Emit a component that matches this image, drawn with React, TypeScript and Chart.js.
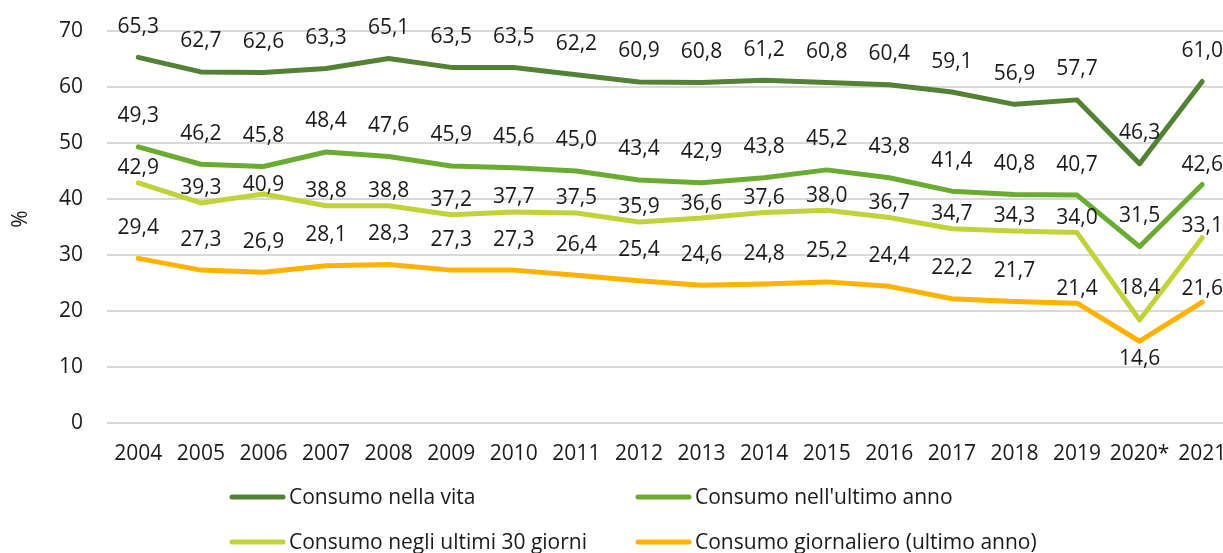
import React, { useEffect, useRef } from "react";
import { Chart, registerables } from "chart.js";

Chart.register(...registerables);

const years = ["2004", "2005", "2006", "2007", "2008", "2009", "2010", "2011", "2012", "2013", "2014", "2015", "2016", "2017", "2018", "2019", "2020*", "2021"];

const seriesNames = [
  "Consumo nella vita",
  "Consumo nell'ultimo anno",
  "Consumo negli ultimi 30 giorni",
  "Consumo giornaliero (ultimo anno)",
];

const consumoVita = [65.3, 62.7, 62.6, 63.3, 65.1, 63.5, 63.5, 62.2, 60.9, 60.8, 61.2, 60.8, 60.4, 59.1, 56.9, 57.7, 46.3, 61.0];
const consumoAnno = [49.3, 46.2, 45.8, 48.4, 47.6, 45.9, 45.6, 45.0, 43.4, 42.9, 43.8, 45.2, 43.8, 41.4, 40.8, 40.7, 31.5, 42.6];
const consumo30 = [42.9, 39.3, 40.9, 38.8, 38.8, 37.2, 37.7, 37.5, 35.9, 36.6, 37.6, 38.0, 36.7, 34.7, 34.3, 34.0, 18.4, 33.1];
const consumoGiorno = [29.4, 27.3, 26.9, 28.1, 28.3, 27.3, 27.3, 26.4, 25.4, 24.6, 24.8, 25.2, 24.4, 22.2, 21.7, 21.4, 14.6, 21.6];

const yTicks = [0, 10, 20, 30, 40, 50, 60, 70];
const yTitle = "%";

// styling
const COLORS = ["#548235", "#6AAB31", "#C2D23B", "#FFB200"];
const FONT = "'Open Sans', 'Noto Sans', sans-serif";
const FONT_SIZE = 21;
const TEXT_COLOR = "#1a1a1a";
// label placement (px above point centre; negative = below)
const LABEL_DEFAULT_NUDGE = [32, 32, 16, 32];
const LABEL_NUDGE_OVERRIDES: Record<string, number> = {
  "1-17": 21,
  "2-2": 10,
  "2-16": 33,
  "2-17": 13,
  "3-15": 16,
  "3-16": -16,
  "3-17": 15,
};

const dataLabelPlugin = {
  id: "dataLabels",
  afterDatasetsDraw(chart: any) {
    const ctx = chart.ctx;
    ctx.save();
    ctx.font = `${FONT_SIZE}px ${FONT}`;
    ctx.fillStyle = TEXT_COLOR;
    ctx.textAlign = "center";
    ctx.textBaseline = "alphabetic";
    const capHalf = FONT_SIZE * 0.714 / 2;
    chart.data.datasets.forEach((ds: any, di: number) => {
      const meta = chart.getDatasetMeta(di);
      meta.data.forEach((pt: any, i: number) => {
        const v = ds.data[i];
        const key = `${di}-${i}`;
        const nudge = key in LABEL_NUDGE_OVERRIDES ? LABEL_NUDGE_OVERRIDES[key] : LABEL_DEFAULT_NUDGE[di];
        const text = v.toFixed(1).replace(".", ",");
        ctx.fillText(text, pt.x, pt.y - nudge + capHalf);
      });
    });
    ctx.restore();
  },
};

const legendPlugin = {
  id: "customLegend",
  afterDraw(chart: any) {
    const ctx = chart.ctx;
    ctx.save();
    ctx.font = `${FONT_SIZE}px ${FONT}`;
    ctx.textAlign = "left";
    ctx.textBaseline = "middle";
    const cols = [230, 636];
    const rows = [497, 542];
    chart.data.datasets.forEach((ds: any, di: number) => {
      const x = cols[di % 2];
      const y = rows[Math.floor(di / 2)];
      ctx.strokeStyle = ds.borderColor;
      ctx.lineWidth = 5;
      ctx.lineCap = "round";
      ctx.beginPath();
      ctx.moveTo(x + 2, y);
      ctx.lineTo(x + 53, y);
      ctx.stroke();
      ctx.fillStyle = TEXT_COLOR;
      ctx.fillText(ds.label, x + 59, y + 1);
    });
    // y-axis title
    ctx.translate(21, 219);
    ctx.rotate(-Math.PI / 2);
    ctx.textAlign = "center";
    ctx.fillStyle = TEXT_COLOR;
    ctx.fillText(yTitle, 0, 0);
    ctx.restore();
  },
};

export default function App() {
  const ref = useRef<HTMLCanvasElement>(null);

  useEffect(() => {
    if (!ref.current) return;
    const seriesData = [consumoVita, consumoAnno, consumo30, consumoGiorno];
    const chart = new Chart(ref.current, {
      type: "line",
      data: {
        labels: years,
        datasets: seriesData.map((d, i) => ({
          label: seriesNames[i],
          data: d,
          borderColor: COLORS[i],
          backgroundColor: COLORS[i],
          borderWidth: 5,
          pointRadius: 0,
          pointHoverRadius: 0,
          tension: 0,
          borderCapStyle: "round",
          borderJoinStyle: "round",
          fill: false,
        })),
      },
      options: {
        animation: false,
        responsive: false,
        devicePixelRatio: 1,
        layout: { padding: { top: 31, right: 6.5, bottom: 90, left: 0 } },
        plugins: {
          legend: { display: false },
          tooltip: { enabled: false },
        },
        scales: {
          x: {
            type: "category",
            offset: true,
            grid: { display: false, drawTicks: false },
            border: { display: false },
            ticks: {
              color: TEXT_COLOR,
              font: { family: FONT, size: FONT_SIZE },
              padding: 18,
              maxRotation: 0,
              autoSkip: false,
            },
            afterFit: (axis: any) => {
              axis.height = 40;
              axis.paddingLeft = 0;
              axis.paddingRight = 0;
            },
          },
          y: {
            min: 0,
            max: 70,
            afterBuildTicks: (axis: any) => {
              axis.ticks = yTicks.map((v) => ({ value: v }));
            },
            grid: { color: "#d9d9d9", lineWidth: 2, drawTicks: false },
            border: { display: false },
            ticks: {
              color: TEXT_COLOR,
              font: { family: FONT, size: FONT_SIZE },
              padding: 24,
            },
            title: { display: false },
            afterFit: (axis: any) => {
              axis.width = 107;
              axis.paddingTop = 10;
              axis.paddingBottom = 10;
            },
          },
        },
      },
      plugins: [dataLabelPlugin, legendPlugin],
    } as any);
    return () => chart.destroy();
  }, []);

  return (
    <div
      style={{
        position: "fixed",
        left: 0,
        top: 0,
        width: 1223,
        height: 553,
        overflow: "hidden",
        background: "#fff",
      }}
    >
      <canvas ref={ref} width={1240} height={553} style={{ display: "block", width: 1240, height: 553 }} />
    </div>
  );
}
